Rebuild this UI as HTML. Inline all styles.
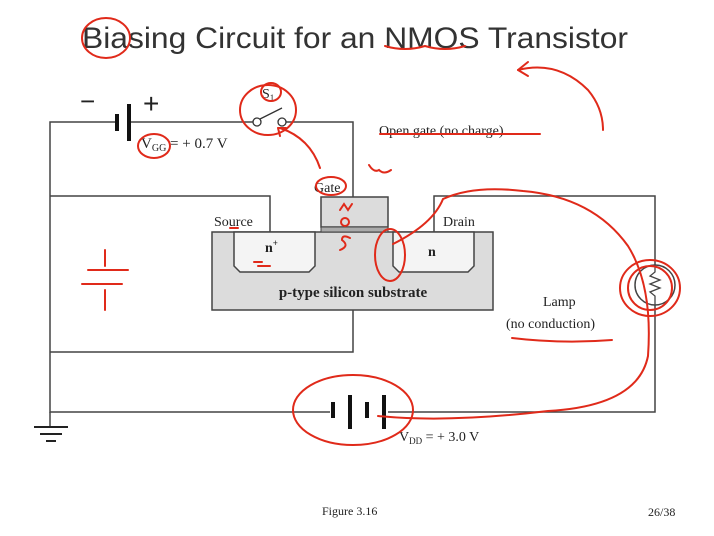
<!DOCTYPE html>
<html><head><style>
html,body{margin:0;padding:0;background:#fff;}
svg{display:block;}
.s{font-family:"Liberation Serif",serif;fill:#222;}
</style></head><body>
<svg width="714" height="536" viewBox="0 0 714 536" xmlns="http://www.w3.org/2000/svg">
<rect width="714" height="536" fill="#fff"/>
<text x="82" y="48" font-family="Liberation Sans,sans-serif" font-size="30" fill="#333" textLength="546" lengthAdjust="spacingAndGlyphs">Biasing Circuit for an NMOS Transistor</text>
<g stroke="#444" stroke-width="1.5" fill="none">
<polyline points="117,122 50,122 50,412 330,412"/>
<polyline points="131,122 253,122"/>
<polyline points="286,122 353,122 353,197"/>
<polyline points="270,232 270,196 50,196"/>
<polyline points="50,352 353,352 353,310"/>
<polyline points="388,412 655,412 655,196 434,196 434,232"/>
<line x1="50" y1="412" x2="50" y2="427"/>
</g>
<g stroke="#222" stroke-width="2">
<line x1="34" y1="427" x2="68" y2="427"/>
<line x1="40" y1="434" x2="62" y2="434"/>
<line x1="46" y1="441" x2="56" y2="441"/>
</g>
<rect x="115" y="114" width="4" height="17" fill="#111"/>
<rect x="127" y="104" width="4" height="37" fill="#111"/>
<text x="80" y="110" font-family="Liberation Sans,sans-serif" font-size="26" fill="#222">−</text>
<text x="143" y="113" font-family="Liberation Sans,sans-serif" font-size="28" fill="#222">+</text>
<text class="s" x="141" y="148" font-size="15">V<tspan font-size="10" dy="3">GG</tspan><tspan dy="-3"> = + 0.7 V</tspan></text>
<circle cx="257" cy="122" r="4" fill="#fff" stroke="#333" stroke-width="1.3"/>
<circle cx="282" cy="122" r="4" fill="#fff" stroke="#333" stroke-width="1.3"/>
<line x1="260" y1="119" x2="282" y2="108" stroke="#333" stroke-width="1.3"/>
<text class="s" x="262" y="98" font-size="14">S<tspan font-size="9" dy="3">1</tspan></text>
<rect x="212" y="232" width="281" height="78" fill="#dcdcdc" stroke="#444" stroke-width="1.5"/>
<path d="M234,232 V266 L240,272 H309 L315,266 V232 Z" fill="#f4f4f4" stroke="#444" stroke-width="1.5"/>
<path d="M393,232 V266 L399,272 H468 L474,266 V232 Z" fill="#f4f4f4" stroke="#444" stroke-width="1.5"/>
<rect x="321" y="197" width="67" height="30" fill="#dcdcdc" stroke="#444" stroke-width="1.5"/>
<rect x="321" y="227" width="67" height="5" fill="#aaa" stroke="#444" stroke-width="1"/>
<text class="s" x="265" y="252" font-size="14" font-weight="bold">n<tspan font-size="9" dy="-6">+</tspan></text>
<text class="s" x="428" y="256" font-size="14" font-weight="bold">n</text>
<text class="s" x="353" y="297" font-size="15" font-weight="bold" text-anchor="middle">p-type silicon substrate</text>
<text class="s" x="214" y="226" font-size="14">Source</text>
<text class="s" x="314" y="192" font-size="14">Gate</text>
<text class="s" x="443" y="226" font-size="14">Drain</text>
<text class="s" x="379" y="135" font-size="14">Open gate (no charge)</text>
<text class="s" x="543" y="306" font-size="14">Lamp</text>
<text class="s" x="506" y="328" font-size="14">(no conduction)</text>
<circle cx="655" cy="285" r="20" fill="#fff" stroke="#444" stroke-width="1.5"/>
<polyline points="655,265 655,272 650,276 660,280 650,284 660,288 650,292 655,296 655,305" fill="none" stroke="#444" stroke-width="1.3"/>
<rect x="331" y="402" width="4" height="16" fill="#111"/>
<rect x="348" y="395" width="4" height="34" fill="#111"/>
<rect x="365" y="402" width="4" height="16" fill="#111"/>
<rect x="382" y="395" width="4" height="34" fill="#111"/>
<text class="s" x="399" y="441" font-size="14">V<tspan font-size="9" dy="3">DD</tspan><tspan dy="-3"> = + 3.0 V</tspan></text>
<text class="s" x="322" y="515" font-size="12">Figure 3.16</text>
<text class="s" x="648" y="516" font-size="12">26/38</text>
<g stroke="#e02a1a" stroke-width="2" fill="none" stroke-linecap="round">
<ellipse cx="106" cy="38" rx="24" ry="20"/>
<path d="M385,46 q20,6 40,0 q20,6 40,0"/>
<path d="M518,70 q40,-10 70,20 q15,18 15,40"/><path d="M518,70 l10,-8 M518,70 l10,6"/>
<ellipse cx="268" cy="110" rx="28" ry="25"/>
<ellipse cx="271" cy="92" rx="10" ry="9"/>
<path d="M320,168 q-10,-30 -40,-40 M278,128 l8,0 M278,128 l2,8"/>
<ellipse cx="154" cy="146" rx="16" ry="12"/>
<ellipse cx="331" cy="186" rx="15" ry="9"/>
<path d="M369,165 q5,8 10,5 q5,5 12,0"/>
<path d="M380,134 h160"/>
<path d="M340,210 l4,-6 l4,6 l4,-6 M341,222 a4,4 0 1 0 8,0 a4,4 0 1 0 -8,0 M350,238 q-8,-4 -8,2 q8,6 -2,10"/>
<ellipse cx="390" cy="255" rx="15" ry="26"/>
<path d="M393,244 q40,-20 50,-45 q30,-14 80,-8 q70,6 105,55 q25,40 20,110 q-10,50 -100,55 q-100,12 -170,5"/>
<ellipse cx="650" cy="288" rx="30" ry="28"/><ellipse cx="650" cy="288" rx="22" ry="22"/>
<ellipse cx="353" cy="410" rx="60" ry="35"/>
<path d="M512,338 q50,6 100,2"/>
<path d="M270,266 h-12 M262,262 h-8"/>
<path d="M88,270 h40 M82,284 h40 M105,250 v16 M105,290 v20"/>
<path d="M230,228 h8"/>
</g>
</svg>
</body></html>
